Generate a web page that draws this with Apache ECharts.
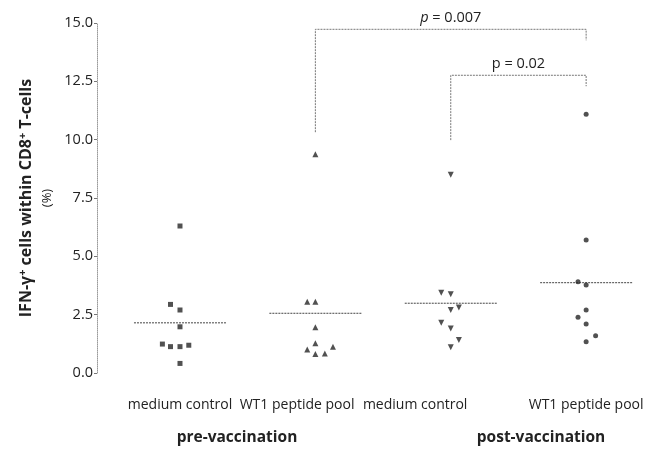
<!DOCTYPE html>
<html>
<head>
<meta charset="utf-8">
<script src="https://cdn.jsdelivr.net/npm/echarts@6/dist/echarts.min.js"></script>
<style>html,body{margin:0;padding:0;background:#fff}#c{width:649px;height:450px}</style>
</head>
<body>
<div id="c"></div>
<script>
// ---- data ----
const categories = ['medium control', 'WT1 peptide pool', 'medium control', 'WT1 peptide pool'];
const groupLabels = ['pre-vaccination', 'post-vaccination'];
const yTickLabels = ['0.0', '2.5', '5.0', '7.5', '10.0', '12.5', '15.0'];

// x = category index + small horizontal scatter offset seen in the figure
const preMediumX  = [0, -0.07, 0, 0, -0.13, -0.07, 0, 0.065, 0];
const preMediumY  = [6.3, 2.94, 2.70, 1.98, 1.24, 1.13, 1.13, 1.19, 0.41];
const preWt1X     = [0, -0.06, 0, 0, 0, -0.06, 0.13, 0, 0.07];
const preWt1Y     = [9.37, 3.05, 3.05, 1.96, 1.27, 1.01, 1.13, 0.81, 0.84];
const postMediumX = [0, -0.07, 0, 0, 0.06, -0.07, 0, 0.06, 0];
const postMediumY = [8.50, 3.44, 3.37, 2.70, 2.81, 2.15, 1.91, 1.41, 1.10];
const postWt1X    = [0, 0, -0.06, 0, 0, -0.06, 0, 0.07, 0];
const postWt1Y    = [11.09, 5.70, 3.91, 3.77, 2.70, 2.39, 2.10, 1.60, 1.34];
const meanValues  = [2.15, 2.56, 2.99, 3.87];

// significance brackets
const bracketFrom     = [1, 2];
const bracketTo       = [3, 3];
const bracketLeftEnd  = [10.32, 9.98];
const bracketTop      = [14.73, 12.76];
const bracketRightEnd = [14.26, 12.29];
const pValues         = ['0.007', '0.02'];

// ---- chart ----
const FONT = '"Open Sans", "DejaVu Sans", sans-serif';
const labelPositions = [0, 0.865, 1.737, 3];   // where the category captions sit in the figure
const chart = echarts.init(document.getElementById('c'));

function pts(xs, ys, idx) { return ys.map((v, i) => [idx + xs[i], v]); }

const markColor = '#262626';
const scatterBase = { type: 'scatter', itemStyle: { color: markColor }, z: 3 };

chart.setOption({
  animation: false,
  backgroundColor: '#fff',
  textStyle: { fontFamily: FONT },
  grid: { left: 97, right: 1, top: 23, bottom: 77 },
  xAxis: {
    type: 'value', min: -0.613, max: 3.457,
    axisLine: { show: false, onZero: false }, axisTick: { show: false }, splitLine: { show: false },
    axisLabel: { show: false }
  },
  yAxis: {
    type: 'value', min: 0, max: 15, interval: 2.5,
    axisLine: { show: true, onZero: false, lineStyle: { color: '#9a9a9a', type: 'dotted', width: 1 } },
    axisTick: { show: true, length: 3, lineStyle: { color: '#777' } },
    splitLine: { show: false },
    axisLabel: {
      formatter: (v) => yTickLabels[Math.round(v / 2.5)],
      fontSize: 14.5, color: '#222', margin: 4, fontFamily: FONT
    },
    name: '{b|IFN-γ}{sup|+}{b| cells within CD8}{sup|+}{b| T-cells}\n{n|(%)}',
    nameLocation: 'middle', nameRotate: 90, nameGap: 40,
    nameTextStyle: {
      rich: {
        b: { fontWeight: 'bold', fontSize: 16, color: '#222', fontFamily: FONT, lineHeight: 20 },
        sup: { fontWeight: 'bold', fontSize: 11, color: '#222', fontFamily: FONT, verticalAlign: 'top', lineHeight: 20, padding: [0, 0, 7, 0] },
        n: { fontSize: 13, color: '#222', fontFamily: FONT, lineHeight: 20 }
      }
    }
  },
  graphic: [
    { type: 'text', x: 237, y: 438, style: { text: groupLabels[0], align: 'center', verticalAlign: 'middle', font: 'bold 15.5px ' + FONT, fill: '#222' } },
    { type: 'text', x: 541, y: 438, style: { text: groupLabels[1], align: 'center', verticalAlign: 'middle', font: 'bold 15.5px ' + FONT, fill: '#222' } }
  ],
  series: [
    Object.assign({}, scatterBase, { name: 'pre medium', symbol: 'rect', symbolSize: 5, data: pts(preMediumX, preMediumY, 0) }),
    Object.assign({}, scatterBase, { name: 'pre WT1', symbol: 'triangle', symbolSize: 6, data: pts(preWt1X, preWt1Y, 1) }),
    Object.assign({}, scatterBase, { name: 'post medium', symbol: 'triangle', symbolRotate: 180, symbolSize: 6, data: pts(postMediumX, postMediumY, 2) }),
    Object.assign({}, scatterBase, { name: 'post WT1', symbol: 'circle', symbolSize: 5, data: pts(postWt1X, postWt1Y, 3) }),
    {
      type: 'custom', name: 'category captions', clip: false, z: 4,
      data: categories.map((c, i) => [labelPositions[i], 0]),
      renderItem: (params, api) => {
        const c = api.coord([api.value(0), api.value(1)]);
        return {
          type: 'text',
          style: {
            x: c[0], y: c[1] + 32, text: categories[params.dataIndex],
            align: 'center', verticalAlign: 'middle',
            font: '14px ' + FONT, fill: '#222'
          }
        };
      }
    },
    {
      type: 'custom', name: 'means', z: 2,
      data: meanValues.map((m, i) => [i, m]),
      renderItem: (params, api) => {
        const c = api.coord([api.value(0), api.value(1)]);
        return {
          type: 'line',
          shape: { x1: c[0] - 46, y1: c[1], x2: c[0] + 46, y2: c[1] },
          style: { stroke: '#444', lineWidth: 1, lineDash: [2, 1] }
        };
      }
    },
    {
      type: 'custom', name: 'brackets', clip: false, z: 4,
      data: bracketFrom.map((f, i) => [f, bracketTo[i], bracketLeftEnd[i], bracketTop[i], bracketRightEnd[i]]),
      renderItem: (params, api) => {
        const a = api.coord([api.value(0), api.value(2)]);
        const t1 = api.coord([api.value(0), api.value(3)]);
        const t2 = api.coord([api.value(1), api.value(3)]);
        const b = api.coord([api.value(1), api.value(4)]);
        const i = params.dataIndex;
        return {
          type: 'group',
          children: [
            {
              type: 'polyline',
              shape: { points: [a, t1, t2, b] },
              style: { stroke: '#777', lineWidth: 1, lineDash: [2, 1], fill: null }
            },
            {
              type: 'text',
              style: {
                x: (t1[0] + t2[0]) / 2, y: t1[1] - 4,
                text: (i === 0 ? '{i|p}' : '{n|p}') + '{n| = ' + pValues[i] + '}',
                align: 'center', verticalAlign: 'bottom',
                rich: {
                  i: { fontStyle: 'italic', fontSize: 14.5, fontFamily: FONT, fill: '#222' },
                  n: { fontSize: 14.5, fontFamily: FONT, fill: '#222' }
                }
              }
            }
          ]
        };
      }
    }
  ]
});
</script>
</body>
</html>
